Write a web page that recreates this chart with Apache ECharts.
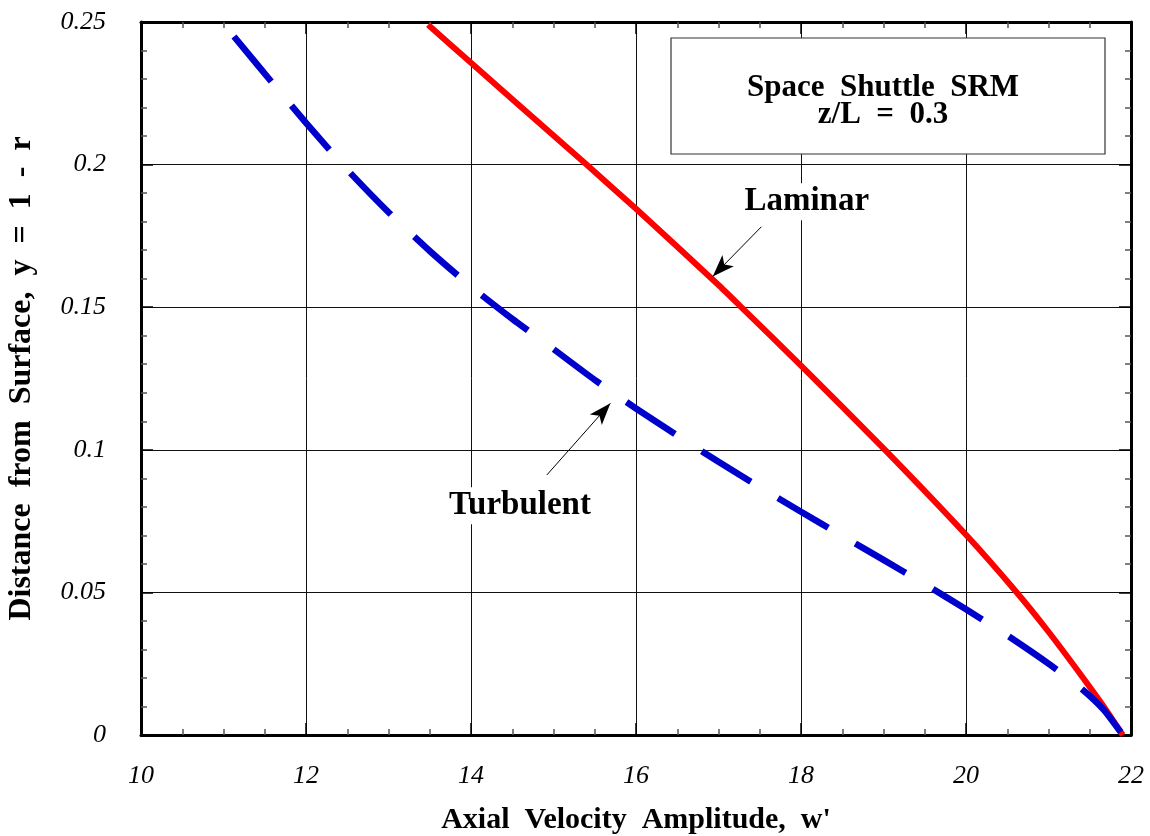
<!DOCTYPE html>
<html>
<head>
<meta charset="utf-8">
<script src="https://cdn.jsdelivr.net/npm/echarts@6/dist/echarts.min.js"></script>
<style>
  html, body { margin: 0; padding: 0; background: #fff; }
  #chart { width: 1150px; height: 836px; }
</style>
</head>
<body>
<div id="chart"></div>
<script>
// laminar profile (solid red)
const laminarX = [13.48, 14.0, 15.0, 15.4, 16.0, 17.0, 17.26, 18.0, 19.0, 20.0, 20.6, 21.0, 21.4, 21.65, 21.9]
const laminarY = [0.249, 0.2357, 0.2102, 0.2, 0.1845, 0.1578, 0.1505, 0.1295, 0.1005, 0.0702, 0.0505, 0.0362, 0.0208, 0.0108, 0]

// turbulent profile (dashed blue)
const turbX = [11.127, 11.6, 12.0, 12.5, 13.0, 13.5, 14.0, 14.5, 15.0, 15.5, 16.0, 16.5, 17.0, 17.5,
  18.0, 18.5, 19.0, 19.5, 20.0, 20.5, 21.0, 21.4, 21.67, 21.9]
const turbY = [0.2449, 0.2284, 0.2146, 0.1982, 0.1833, 0.1697, 0.1572, 0.1459, 0.1353, 0.1245, 0.1145, 0.105, 0.0958, 0.0869,
  0.0783, 0.0698, 0.0614, 0.0529, 0.0441, 0.0349, 0.025, 0.0162, 0.0088, 0]

// annotations: label position, arrow start, arrow tip (data coords)
const labelNames = ['Laminar', 'Turbulent']
const labelPos = [[18.07, 0.187], [14.594, 0.0804]]
const arrowFrom = [[17.52, 0.1782], [14.92, 0.0912]]
const arrowTo = [[16.93, 0.1608], [15.69, 0.1163]]

const xTicks = { min: 10, max: 22, interval: 2 }
const yTicks = { min: 0, max: 0.25, interval: 0.05 }

const serif = 'Liberation Serif'
const chart = echarts.init(document.getElementById('chart'))

const pairs = (xs, ys) => xs.map((x, i) => [x, ys[i]])

const frameAxis = {
  axisLine: { show: true, onZero: false, lineStyle: { color: '#000', width: 3 } },
  axisTick: { show: true, inside: true, length: 12, lineStyle: { color: '#000', width: 1.5 } },
  minorTick: { show: true, length: 6, lineStyle: { color: '#555', width: 1.5 } }
}

const option = {
  animation: false,
  backgroundColor: '#fff',
  grid: { left: 141, right: 19, top: 22, bottom: 101, outerBoundsMode: 'none', containLabel: false },
  xAxis: [
    {
      type: 'value', position: 'bottom', ...xTicks, ...frameAxis,
      minorTick: { ...frameAxis.minorTick, splitNumber: 4 },
      splitLine: { show: true, lineStyle: { color: '#111', width: 1 } },
      axisLabel: { margin: 28, fontFamily: serif, fontStyle: 'italic', fontSize: 26, color: '#000' },
      name: 'Axial  Velocity  Amplitude,  w\'',
      nameLocation: 'middle',
      nameGap: 70,
      nameMoveOverlap: false,
      nameTextStyle: { fontFamily: serif, fontWeight: 'bold', fontSize: 30, color: '#000' }
    },
    {
      type: 'value', position: 'top', ...xTicks, ...frameAxis,
      minorTick: { ...frameAxis.minorTick, splitNumber: 4 },
      splitLine: { show: false },
      axisLabel: { show: false }
    }
  ],
  yAxis: [
    {
      type: 'value', position: 'left', ...yTicks, ...frameAxis,
      minorTick: { ...frameAxis.minorTick, splitNumber: 5 },
      splitLine: { show: true, lineStyle: { color: '#111', width: 1 } },
      axisLabel: { margin: 35, fontFamily: serif, fontStyle: 'italic', fontSize: 26, color: '#000' },
      name: 'Distance  from  Surface,  y  =  1  -  r',
      nameLocation: 'middle',
      nameGap: 103,
      nameMoveOverlap: false,
      nameTextStyle: { fontFamily: serif, fontWeight: 'bold', fontSize: 32, color: '#000' }
    },
    {
      type: 'value', position: 'right', ...yTicks, ...frameAxis,
      minorTick: { ...frameAxis.minorTick, splitNumber: 5 },
      splitLine: { show: false },
      axisLabel: { show: false }
    }
  ],
  graphic: [
    {
      type: 'rect', z: 10,
      shape: { x: 671, y: 38, width: 434, height: 116 },
      style: { fill: '#fff', stroke: '#333', lineWidth: 1.2 }
    },
    {
      type: 'text', z: 11, x: 883, y: 101,
      style: {
        text: 'Space  Shuttle  SRM\nz/L  =  0.3',
        align: 'center', verticalAlign: 'middle',
        font: 'bold 31px "Liberation Serif"', lineHeight: 27, fill: '#000'
      }
    }
  ],
  series: [
    {
      name: 'Laminar',
      type: 'line',
      data: pairs(laminarX, laminarY),
      showSymbol: false,
      smooth: 0.2,
      lineStyle: { color: '#ff0000', width: 6 },
      z: 3,
      markLine: {
        silent: true,
        symbol: ['none', 'arrow'],
        symbolSize: [12, 22],
        label: { show: false },
        lineStyle: { color: '#000', width: 1, type: 'solid' },
        data: arrowFrom.map((p, i) => [{ coord: p }, { coord: arrowTo[i] }])
      },
      markPoint: {
        silent: true,
        symbol: 'circle',
        symbolSize: 0,
        label: {
          show: true, position: 'inside', formatter: '{b}',
          fontFamily: serif, fontWeight: 'bold', fontSize: 33, color: '#000',
          backgroundColor: '#fff', padding: [2, 4]
        },
        data: labelNames.map((n, i) => ({ name: n, coord: labelPos[i] }))
      }
    },
    {
      name: 'Turbulent',
      type: 'line',
      data: pairs(turbX, turbY),
      showSymbol: false,
      smooth: 0.2,
      lineStyle: { color: '#0000cc', width: 6.5, type: [58, 31.8], cap: 'butt' },
      z: 4
    }
  ]
}

chart.setOption(option)
</script>
</body>
</html>
